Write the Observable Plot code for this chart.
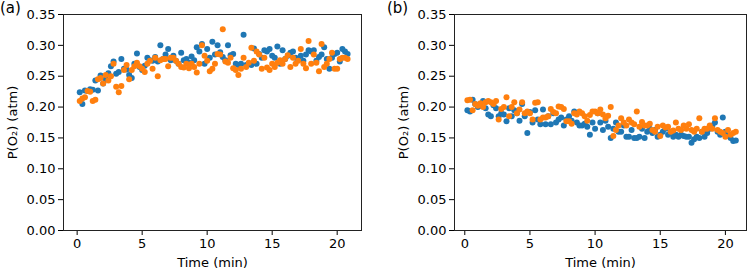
<!DOCTYPE html>
<html>
<head>
<meta charset="utf-8">
<script src="https://cdn.jsdelivr.net/npm/d3@7"></script>
<script src="https://cdn.jsdelivr.net/npm/@observablehq/plot@0.6"></script>
<style>
  html, body { margin: 0; padding: 0; background: white; }
  #fig { position: relative; width: 750px; height: 270px; overflow: hidden; font-family: "DejaVu Sans", sans-serif; }
  .panel { position: absolute; top: 0; }
  .tag { position: absolute; font-size: 15px; line-height: 15px; color: black; }
</style>
</head>
<body>
<div id="fig">
  <div class="panel" id="pa" style="left:0px"></div>
  <div class="panel" id="pb" style="left:375px"></div>
  <div class="tag" style="left:0px; top:1px">(a)</div>
  <div class="tag" style="left:387px; top:1px">(b)</div>
</div>
<script>
// Sampling times (min)
const times = [
  0.2, 0.4, 0.6, 0.8, 1.0, 1.2, 1.4, 1.6, 1.8, 2.0,
  2.2, 2.4, 2.6, 2.8, 3.0, 3.2, 3.4, 3.6, 3.8, 4.0,
  4.2, 4.4, 4.6, 4.8, 5.0, 5.2, 5.4, 5.6, 5.8, 6.0,
  6.2, 6.4, 6.6, 6.8, 7.0, 7.2, 7.4, 7.6, 7.8, 8.0,
  8.2, 8.4, 8.6, 8.8, 9.0, 9.2, 9.4, 9.6, 9.8, 10.0,
  10.2, 10.4, 10.6, 10.8, 11.0, 11.2, 11.4, 11.6, 11.8, 12.0,
  12.2, 12.4, 12.6, 12.8, 13.0, 13.2, 13.4, 13.6, 13.8, 14.0,
  14.2, 14.4, 14.6, 14.8, 15.0, 15.2, 15.4, 15.6, 15.8, 16.0,
  16.2, 16.4, 16.6, 16.8, 17.0, 17.2, 17.4, 17.6, 17.8, 18.0,
  18.2, 18.4, 18.6, 18.8, 19.0, 19.2, 19.4, 19.6, 19.8, 20.0,
  20.2, 20.4, 20.6, 20.8
];

// Panel (a): oxygen partial pressure (atm)
const aBlue = [
  0.224, 0.205, 0.227, 0.226, 0.229, 0.228, 0.243, 0.227, 0.251, 0.238,
  0.245, 0.255, 0.266, 0.274, 0.254, 0.257, 0.278, 0.262, 0.261, 0.252,
  0.247, 0.270, 0.287, 0.265, 0.260, 0.267, 0.280, 0.276, 0.275, 0.281,
  0.274, 0.300, 0.278, 0.285, 0.294, 0.276, 0.283, 0.275, 0.270, 0.288,
  0.276, 0.278, 0.272, 0.282, 0.276, 0.297, 0.290, 0.302, 0.270, 0.294,
  0.280, 0.306, 0.285, 0.300, 0.289, 0.281, 0.276, 0.300, 0.284, 0.286,
  0.270, 0.268, 0.270, 0.317, 0.268, 0.270, 0.268, 0.295, 0.270, 0.286,
  0.280, 0.292, 0.290, 0.294, 0.283, 0.280, 0.298, 0.270, 0.292, 0.278,
  0.283, 0.288, 0.290, 0.280, 0.278, 0.283, 0.275, 0.285, 0.292, 0.290,
  0.292, 0.275, 0.281, 0.285, 0.297, 0.278, 0.262, 0.280, 0.286, 0.288,
  0.274, 0.294, 0.290, 0.286
];
const aOrange = [
  0.210, 0.214, 0.216, 0.226, 0.225, 0.210, 0.212, 0.245, 0.247, 0.238,
  0.252, 0.243, 0.250, 0.270, 0.233, 0.224, 0.234, 0.260, 0.268, 0.245,
  0.260, 0.266, 0.272, 0.266, 0.262, 0.257, 0.270, 0.275, 0.262, 0.280,
  0.250, 0.276, 0.278, 0.278, 0.266, 0.280, 0.280, 0.275, 0.270, 0.265,
  0.264, 0.270, 0.263, 0.270, 0.265, 0.256, 0.270, 0.300, 0.283, 0.275,
  0.258, 0.262, 0.270, 0.286, 0.285, 0.326, 0.274, 0.272, 0.280, 0.263,
  0.260, 0.252, 0.262, 0.280, 0.265, 0.272, 0.296, 0.275, 0.290, 0.285,
  0.262, 0.280, 0.264, 0.260, 0.270, 0.265, 0.272, 0.276, 0.270, 0.278,
  0.284, 0.265, 0.280, 0.270, 0.275, 0.294, 0.270, 0.263, 0.307, 0.270,
  0.285, 0.272, 0.258, 0.302, 0.265, 0.270, 0.278, 0.288, 0.262, 0.262,
  0.278, 0.280, 0.280, 0.278
];

// Panel (b): oxygen partial pressure (atm)
const bBlue = [
  0.195, 0.193, 0.212, 0.205, 0.200, 0.202, 0.210, 0.198, 0.188, 0.185,
  0.203, 0.198, 0.185, 0.190, 0.188, 0.177, 0.198, 0.185, 0.195, 0.190,
  0.178, 0.205, 0.185, 0.158, 0.192, 0.175, 0.195, 0.180, 0.172, 0.196,
  0.172, 0.185, 0.172, 0.190, 0.175, 0.180, 0.183, 0.170, 0.180, 0.185,
  0.178, 0.193, 0.175, 0.170, 0.170, 0.173, 0.168, 0.155, 0.175, 0.165,
  0.190, 0.175, 0.163, 0.178, 0.168, 0.150, 0.165, 0.175, 0.160, 0.160,
  0.170, 0.152, 0.152, 0.163, 0.150, 0.150, 0.152, 0.165, 0.150, 0.160,
  0.165, 0.158, 0.163, 0.152, 0.155, 0.160, 0.165, 0.155, 0.160, 0.152,
  0.155, 0.152, 0.155, 0.153, 0.152, 0.152, 0.142, 0.148, 0.152, 0.150,
  0.160, 0.152, 0.158, 0.165, 0.170, 0.175, 0.160, 0.155, 0.183, 0.160,
  0.153, 0.150, 0.145, 0.146
];
const bOrange = [
  0.211, 0.212, 0.195, 0.205, 0.202, 0.206, 0.200, 0.208, 0.210, 0.208,
  0.205, 0.210, 0.180, 0.197, 0.200, 0.216, 0.185, 0.200, 0.208, 0.190,
  0.196, 0.208, 0.190, 0.193, 0.190, 0.180, 0.207, 0.208, 0.180, 0.183,
  0.183, 0.185, 0.197, 0.192, 0.190, 0.201, 0.200, 0.197, 0.177, 0.177,
  0.173, 0.190, 0.188, 0.193, 0.190, 0.185, 0.178, 0.187, 0.193, 0.193,
  0.190, 0.196, 0.188, 0.182, 0.186, 0.200, 0.153, 0.163, 0.170, 0.182,
  0.175, 0.170, 0.180, 0.175, 0.172, 0.193, 0.168, 0.176, 0.170, 0.170,
  0.173, 0.163, 0.160, 0.168, 0.153, 0.170, 0.167, 0.168, 0.160, 0.162,
  0.175, 0.165, 0.163, 0.170, 0.165, 0.172, 0.163, 0.160, 0.165, 0.182,
  0.160, 0.165, 0.165, 0.170, 0.165, 0.182, 0.163, 0.160, 0.158, 0.152,
  0.163, 0.155, 0.158, 0.160
];

const xTicks = [0, 5, 10, 15, 20];
const yTicks = [0, 0.05, 0.10, 0.15, 0.20, 0.25, 0.30, 0.35];
const seriesColors = ["#1f77b4", "#ff7f0e"];

function panel(blue, orange, xDomain, marginLeft, marginRight) {
  return Plot.plot({
    width: 375,
    height: 270,
    marginLeft,
    marginRight,
    marginTop: 14,
    marginBottom: 40,
    style: { fontFamily: "DejaVu Sans", fontSize: "13px", color: "black", background: "white", overflow: "visible" },
    x: { domain: xDomain },
    y: { domain: [0, 0.35] },
    marks: [
      Plot.axisX({
        ticks: xTicks, tickSize: 5, tickPadding: 3, tickFormat: d => String(d),
        label: "Time (min)", labelAnchor: "center", labelArrow: "none", labelOffset: 36
      }),
      Plot.axisY({
        ticks: yTicks, tickSize: 5, tickPadding: 3, tickFormat: d3.format(".2f"),
        label: "P(O₂) (atm)", labelAnchor: "center", labelArrow: "none", labelOffset: 56
      }),
      Plot.dot(times, { x: times, y: blue, r: 3, fill: seriesColors[0], stroke: "none" }),
      Plot.dot(times, { x: times, y: orange, r: 3, fill: seriesColors[1], stroke: "none" }),
      Plot.frame({ stroke: "#222", strokeWidth: 1 })
    ]
  });
}

document.getElementById("pa").append(panel(aBlue, aOrange, [-1.05, 21.87], 63, 14));
document.getElementById("pb").append(panel(bBlue, bOrange, [-0.79, 21.62], 79, 4));
</script>
</body>
</html>
